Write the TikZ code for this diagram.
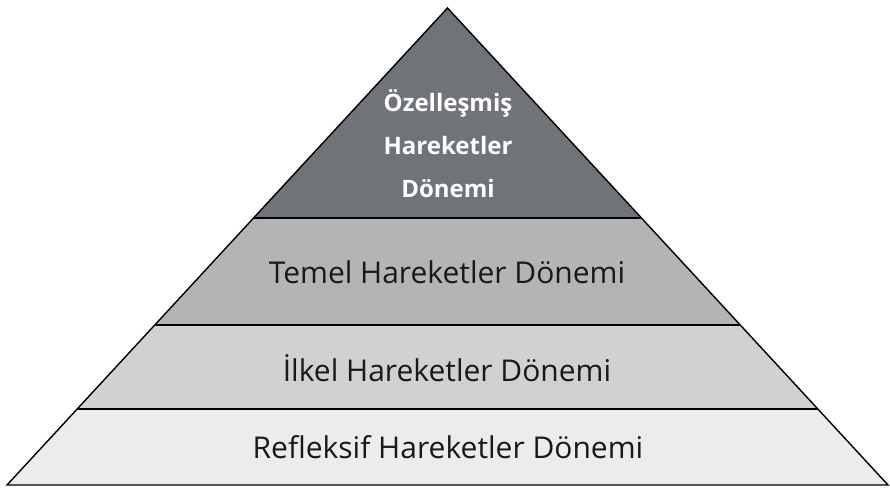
\documentclass[tikz,border=0pt]{standalone}
\usepackage{fontspec}
\setmainfont{Open Sans}
\definecolor{tierA}{RGB}{112,115,119}
\definecolor{tierB}{RGB}{178,180,182}
\definecolor{tierC}{RGB}{208,209,209}
\definecolor{tierD}{RGB}{236,236,236}
\tikzset{
  tier/.style={draw=black, line width=1.4pt, line join=miter},
  tierlabel/.style={font=\fontsize{30}{34}\selectfont, text=black!90},
  toplabel/.style={font=\fontsize{24}{43}\selectfont\bfseries, text=white, align=center}
}

\begin{document}
\begin{tikzpicture}[x=1pt, y=-1pt]
  \useasboundingbox (0,0) rectangle (890,487);
  % corners of the pyramid, top to bottom
  \coordinate (apex) at (447.5,8);
  \coordinate (l1) at (254,218);  \coordinate (r1) at (641,218);
  \coordinate (l2) at (155,325);  \coordinate (r2) at (740,325);
  \coordinate (l3) at (77,409);   \coordinate (r3) at (818,409);
  \coordinate (l4) at (7,485);    \coordinate (r4) at (888,485);

  \begin{scope}
    \fill[tierD] (l3) -- (r3) -- (r4) -- (l4) -- cycle;
    \fill[tierC] (l2) -- (r2) -- (r3) -- (l3) -- cycle;
    \fill[tierB] (l1) -- (r1) -- (r2) -- (l2) -- cycle;
    \fill[tierA] (apex) -- (r1) -- (l1) -- cycle;
    \draw[tier] (apex) -- (r4) -- (l4) -- cycle;
    \draw[tier] (l1) -- (r1);
    \draw[tier] (l2) -- (r2);
    \draw[tier] (l3) -- (r3);
  \end{scope}

  \node[toplabel] (ozel) at (448,144) {Özelleşmiş\\Hareketler\\Dönemi};
  \node[tierlabel] (temel) at (447,272) {Temel Hareketler Dönemi};
  \node[tierlabel] (ilkel) at (447,368) {İlkel Hareketler Dönemi};
  \node[tierlabel] (refl) at (448,447) {Refleksif Hareketler Dönemi};
\end{tikzpicture}
\end{document}
